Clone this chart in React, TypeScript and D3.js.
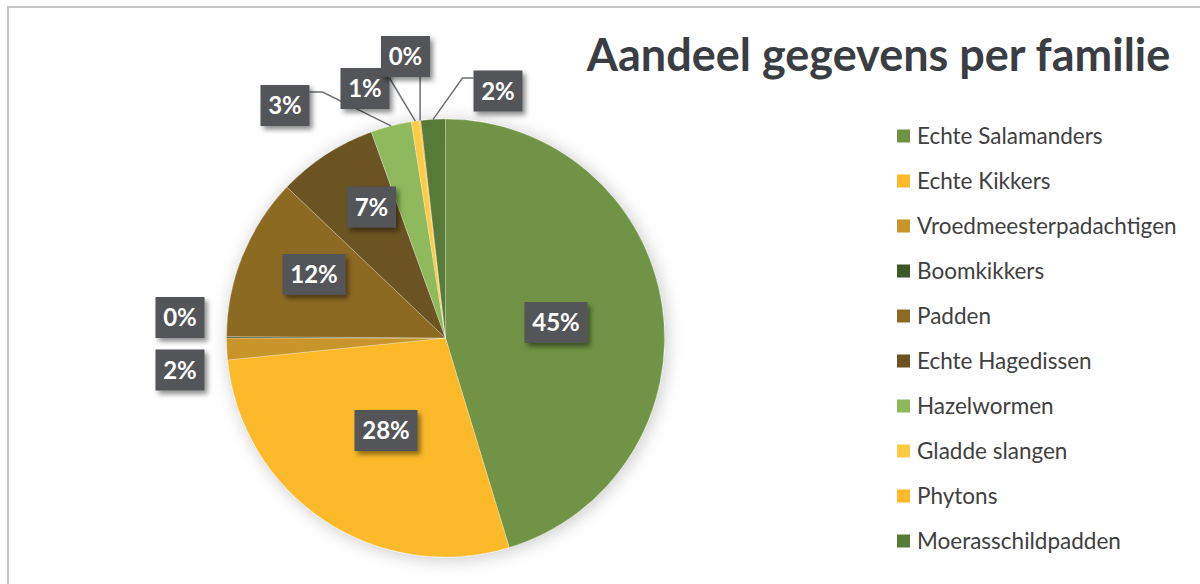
import React from "react";
import * as d3 from "d3";

const categories = [
  "Echte Salamanders",
  "Echte Kikkers",
  "Vroedmeesterpadachtigen",
  "Boomkikkers",
  "Padden",
  "Echte Hagedissen",
  "Hazelwormen",
  "Gladde slangen",
  "Phytons",
  "Moerasschildpadden",
];
const shares = [45.3, 28.1, 1.6, 0.1, 12.0, 7.4, 3.0, 0.6, 0.1, 1.8];
const colors = [
  "#6F9344",
  "#FCBA2B",
  "#C8952A",
  "#3E5829",
  "#8D6B23",
  "#6C5220",
  "#8EB95B",
  "#FFCB45",
  "#FDBA2C",
  "#587A37",
];
const title = "Aandeel gegevens per familie";

// label layout: box centre relative to pie centre; leader: anchor offset on box + optional elbow
type LabelLayout = { dx: number; dy: number; ax?: number; ay?: number; elbow?: number; line?: boolean };
const labelLayout: LabelLayout[] = [
  { dx: 110.5, dy: -15.5 },
  { dx: -59.5, dy: 92.5 },
  { dx: -265.5, dy: 32 },
  { dx: -265.5, dy: -20.5 },
  { dx: -131.5, dy: -63.5 },
  { dx: -74, dy: -131 },
  { dx: -160.5, dy: -232.5, ax: 24.5, ay: -13.5, elbow: 13, line: true },
  { dx: -80.5, dy: -249.5, ax: 24.5, ay: -10.5, line: true },
  { dx: -40, dy: -281.5, line: true, ax: 0, ay: 20.5 },
  { dx: 52.5, dy: -247, ax: -24.5, ay: -13, elbow: -11, line: true },
];

const W = 1200;
const H = 584;
const CX = 445.5;
const CY = 338;
const R = 219;

export default function App() {
  const pie = d3
    .pie<number>()
    .sort(null)
    .value((d) => d)
    .startAngle(0)
    .endAngle(2 * Math.PI);
  const arcs = pie(shares);
  const arc = d3.arc<d3.PieArcDatum<number>>().innerRadius(0).outerRadius(R);
  const total = d3.sum(shares);
  const legendY = d3
    .scalePoint<string>()
    .domain(categories)
    .range([136, 541]);

  return (
    <svg
      width={W}
      height={H}
      style={{ position: "absolute", left: 0, top: 0, background: "#fff" }}
      fontFamily="Lato, 'Open Sans', sans-serif"
    >
      <defs>
        <filter id="pieShadow" x="-20%" y="-20%" width="140%" height="140%">
          <feGaussianBlur in="SourceAlpha" stdDeviation="9" />
          <feOffset dx="2" dy="2" result="b" />
          <feComponentTransfer>
            <feFuncA type="linear" slope="0.22" />
          </feComponentTransfer>
          <feMerge>
            <feMergeNode />
            <feMergeNode in="SourceGraphic" />
          </feMerge>
        </filter>
        <filter id="boxShadow" x="-30%" y="-30%" width="170%" height="170%">
          <feDropShadow dx="3" dy="3.5" stdDeviation="2.5" floodColor="#000" floodOpacity="0.45" />
        </filter>
      </defs>
      <rect x={0} y={0} width={W} height={H} fill="#fff" />
      <rect x={8} y={7} width={1400} height={800} fill="none" stroke="#C4C4C4" strokeWidth={2} />

      <g transform={`translate(${CX},${CY})`}>
        <g filter="url(#pieShadow)">
          {arcs.map((a, i) => (
            <path
              key={categories[i]}
              d={arc(a) || ""}
              fill={colors[i]}
              stroke="rgba(255,255,255,0.35)"
              strokeWidth={0.75}
            />
          ))}
        </g>

        {arcs.map((a, i) => {
          const L = labelLayout[i];
          if (!L.line) return null;
          const mid = (a.startAngle + a.endAngle) / 2;
          const px = R * Math.sin(mid);
          const py = -R * Math.cos(mid);
          const sx = L.dx + (L.ax ?? 0);
          const sy = L.dy + (L.ay ?? 0);
          const pts: [number, number][] = [[sx, sy]];
          if (L.elbow) pts.push([sx + L.elbow, sy]);
          pts.push([px, py]);
          if (L.ax === 0) pts[0] = [px, sy];
          return (
            <path
              key={"l" + i}
              d={d3.line()(pts) || ""}
              fill="none"
              stroke="#6E6F73"
              strokeWidth={1.5}
            />
          );
        })}

        {arcs.map((a, i) => {
          const L = labelLayout[i];
          const txt = `${Math.round((shares[i] / total) * 100)}%`;
          const bw = 14 * txt.length + 21;
          const bh = 41;
          return (
            <g key={"t" + i} transform={`translate(${L.dx},${L.dy})`}>
              <rect
                x={-bw / 2}
                y={-bh / 2}
                width={bw}
                height={bh}
                fill="#525458"
                filter="url(#boxShadow)"
              />
              <text
                x={0}
                y={0}
                dy="0.36em"
                textAnchor="middle"
                fill="#fff"
                fontWeight={700}
                fontSize={24}
              >
                {txt}
              </text>
            </g>
          );
        })}
      </g>

      <text
        x={878.5}
        y={71}
        textAnchor="middle"
        fontSize={45}
        fontWeight={700}
        fill="#3A3D42"
      >
        {title}
      </text>

      <g>
        {categories.map((c, i) => (
          <g key={c} transform={`translate(897,${legendY(c)})`}>
            <rect x={0} y={-6.5} width={13} height={13} fill={colors[i]} />
            <text x={20} y={0} dy="0.35em" fontSize={22.5} fill="#404040">
              {c}
            </text>
          </g>
        ))}
      </g>
    </svg>
  );
}
